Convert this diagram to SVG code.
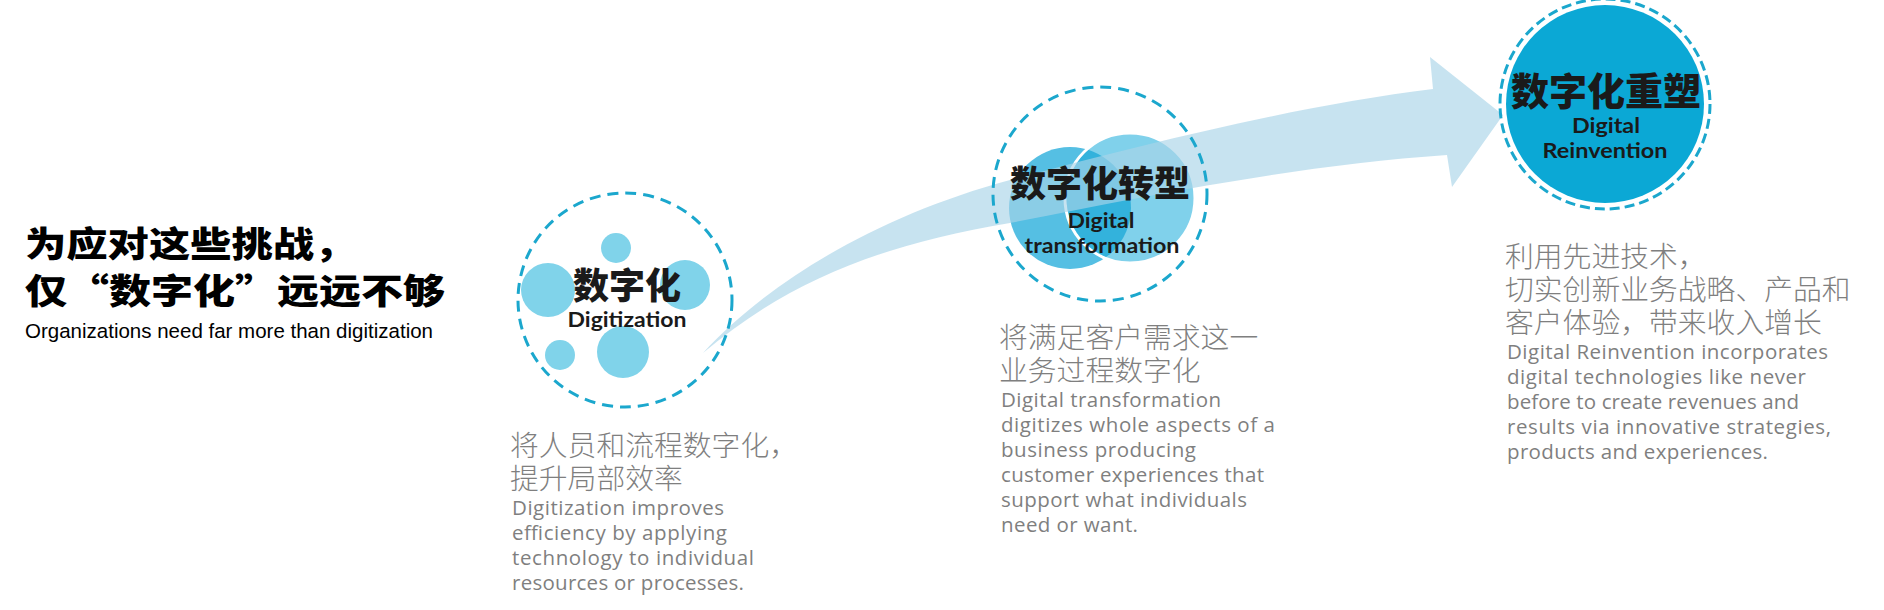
<svg xmlns="http://www.w3.org/2000/svg" width="1884" height="610" viewBox="0 0 1884 610">
  <defs>
    <style>
      .dash { fill: none; stroke: #1ba7cd; stroke-width: 3; stroke-dasharray: 11 7; }
      .dash2 { fill: none; stroke: #1ba7cd; stroke-width: 3; stroke-dasharray: 10 5; }
      .dot { fill: #80d3ea; }
      .cnhead { font-family: "Noto Sans CJK SC", sans-serif; font-weight: 900; fill: #000; }
      .cnnode { font-family: "Noto Sans CJK SC", sans-serif; font-weight: 900; fill: #1a1a1a; text-anchor: middle; }
      .ennode { font-family: Lato, "Liberation Sans", sans-serif; font-weight: 700; fill: #1a1a1a; text-anchor: middle; font-size: 21px; }
      .cndesc { font-family: "Noto Sans CJK SC", sans-serif; font-weight: 300; fill: #7f7f7f; font-size: 28.8px; }
      .endesc { font-family: "Open Sans", "Noto Sans", sans-serif; fill: #7f7f7f; font-size: 20.5px; }
      .sub { font-family: "Liberation Sans", Arial, sans-serif; fill: #000; font-size: 20.5px; }
    </style>
    <clipPath id="leftClip"><circle cx="1070" cy="208" r="61"/></clipPath>
  </defs>

  <g id="heading">
    <text class="cnhead" font-size="35" transform="translate(25,257) scale(1.18,1)" x="0 35 70 105 140 175 210 245">为应对这些挑战，</text>
    <text class="cnhead" font-size="35" transform="translate(25,304) scale(1.2,1)" x="0 35 70 105 140 175 210 245 280 315">仅“数字化”远远不够</text>
    <text class="sub" x="25" y="338" textLength="408">Organizations need far more than digitization</text>
  </g>

  <g id="node-digitization-shapes">
    <circle class="dot" cx="616" cy="248" r="15"/>
    <circle class="dot" cx="548" cy="290" r="27"/>
    <circle class="dot" cx="685" cy="285" r="25"/>
    <circle class="dot" cx="623" cy="352" r="26"/>
    <circle class="dot" cx="560" cy="355" r="15"/>
  </g>

  <g id="node-transformation-shapes">
    <circle cx="1070" cy="208" r="61" fill="#55bfe3"/>
    <circle cx="1130" cy="198" r="65" fill="#80d1eb" stroke="#ffffff" stroke-width="3"/>
    <circle cx="1130" cy="198" r="63.5" fill="#33b2dc" clip-path="url(#leftClip)"/>
  </g>

  <g id="connectors">
    <path d="M703,353 C770,280 880,215 1010,180 C1140,145 1300,105 1433,89 L1430,57 L1503,115 L1452,187 L1447,155 C1300,165 1150,195 1010,223 C880,245 790,280 703,353 Z" fill="#a9d4e8" fill-opacity="0.65"/>
  </g>

  <g id="node-digitization">
    <circle class="dash" cx="625" cy="300" r="107"/>
    <text class="cnnode" x="627" y="299" font-size="36">数字化</text>
    <text class="ennode" x="627" y="327" textLength="119" lengthAdjust="spacingAndGlyphs">Digitization</text>
  </g>

  <g id="node-transformation">
    <circle class="dash" cx="1100" cy="194" r="107"/>
    <text class="cnnode" x="1100" y="197" font-size="36">数字化转型</text>
    <text class="ennode" x="1101" y="228" textLength="67" lengthAdjust="spacingAndGlyphs">Digital</text>
    <text class="ennode" x="1102" y="253" textLength="155" lengthAdjust="spacingAndGlyphs">transformation</text>
  </g>

  <g id="node-reinvention">
    <circle cx="1605" cy="104" r="99" fill="#0ba8d5"/>
    <circle class="dash2" cx="1605" cy="104" r="105"/>
    <text class="cnnode" x="1606" y="105" font-size="38">数字化重塑</text>
    <text class="ennode" x="1606" y="133" textLength="68" lengthAdjust="spacingAndGlyphs">Digital</text>
    <text class="ennode" x="1605" y="158" textLength="125" lengthAdjust="spacingAndGlyphs">Reinvention</text>
  </g>

  <g id="desc-digitization">
    <text class="cndesc" x="510" y="456">将人员和流程数字化，</text>
    <text class="cndesc" x="510" y="489">提升局部效率</text>
    <text class="endesc" x="512" y="515" textLength="212">Digitization improves</text>
    <text class="endesc" x="512" y="540" textLength="215">efficiency by applying</text>
    <text class="endesc" x="512" y="565" textLength="242">technology to individual</text>
    <text class="endesc" x="512" y="590" textLength="232">resources or processes.</text>
  </g>

  <g id="desc-transformation">
    <text class="cndesc" x="999" y="348">将满足客户需求这一</text>
    <text class="cndesc" x="999" y="381">业务过程数字化</text>
    <text class="endesc" x="1001" y="407" textLength="220">Digital transformation</text>
    <text class="endesc" x="1001" y="432" textLength="274">digitizes whole aspects of a</text>
    <text class="endesc" x="1001" y="457" textLength="195">business producing</text>
    <text class="endesc" x="1001" y="482" textLength="263">customer experiences that</text>
    <text class="endesc" x="1001" y="507" textLength="246">support what individuals</text>
    <text class="endesc" x="1001" y="532" textLength="137">need or want.</text>
  </g>

  <g id="desc-reinvention">
    <text class="cndesc" x="1505" y="267">利用先进技术，</text>
    <text class="cndesc" x="1505" y="300">切实创新业务战略、产品和</text>
    <text class="cndesc" x="1505" y="333">客户体验，带来收入增长</text>
    <text class="endesc" x="1507" y="359" textLength="321">Digital Reinvention incorporates</text>
    <text class="endesc" x="1507" y="384" textLength="299">digital technologies like never</text>
    <text class="endesc" x="1507" y="409" textLength="292">before to create revenues and</text>
    <text class="endesc" x="1507" y="434" textLength="324">results via innovative strategies,</text>
    <text class="endesc" x="1507" y="459" textLength="261">products and experiences.</text>
  </g>
</svg>
